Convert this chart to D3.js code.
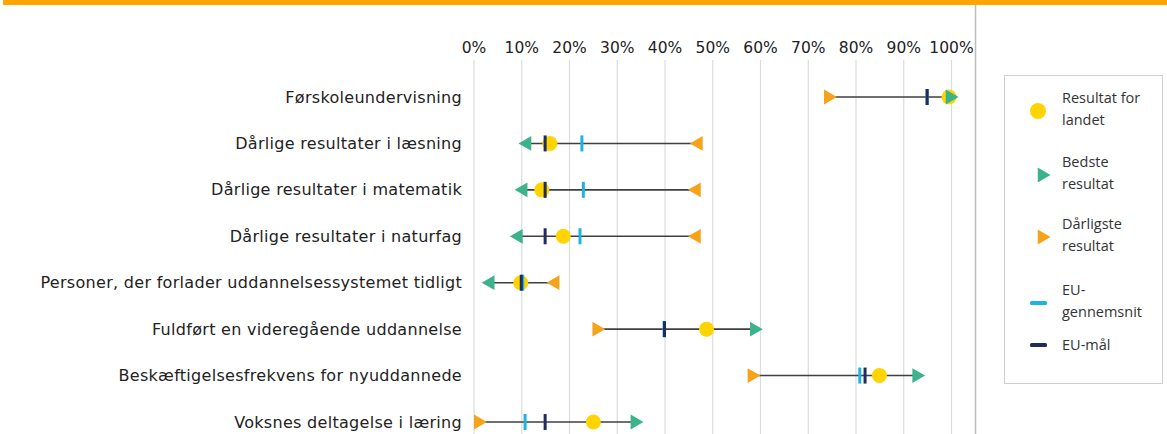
<!DOCTYPE html>
<html>
<head>
<meta charset="utf-8">
<script src="https://cdn.jsdelivr.net/npm/d3@7"></script>
<style>
  body { margin: 0; background: #fff; }
  svg { display: block; }
</style>
</head>
<body>
<div id="container"></div>
<script>
// Indikatorer (rækker)
const categories = [
  "Førskoleundervisning",
  "Dårlige resultater i læsning",
  "Dårlige resultater i matematik",
  "Dårlige resultater i naturfag",
  "Personer, der forlader uddannelsessystemet tidligt",
  "Fuldført en videregående uddannelse",
  "Beskæftigelsesfrekvens for nyuddannede",
  "Voksnes deltagelse i læring"
];

// Værdier i procent
const landet   = [99.6, 16.0, 14.3, 18.8, 9.9, 48.8, 85.0, 25.1];
const bedste   = [99.8, 11.2, 10.4, 9.4, 3.5, 58.8, 92.8, 33.8];
const darligste = [74.3, 47.1, 46.7, 46.7, 17.1, 25.8, 58.3, 1.0];
const euSnit   = [95.0, 22.7, 23.0, 22.3, 10.3, 39.9, 80.9, 10.8];
const euMaal   = [95, 15, 15, 15, 10, 40, 82, 15];

const tickValues = [0, 10, 20, 30, 40, 50, 60, 70, 80, 90, 100];

const legendItems = [
  { key: "landet", lines: ["Resultat for", "landet"] },
  { key: "bedste", lines: ["Bedste", "resultat"] },
  { key: "darligste", lines: ["Dårligste", "resultat"] },
  { key: "euSnit", lines: ["EU-", "gennemsnit"] },
  { key: "euMaal", lines: ["EU-mål"] }
];

const colors = {
  landet: "#ffd400",
  bedste: "#3db38c",
  darligste: "#f7a21b",
  euSnit: "#1fb3e3",
  euMaal: "#1e2d5c",
  line: "#3f3f3f"
};

const W = 1167, H = 434;

const svg = d3.select("#container").append("svg")
  .attr("width", W)
  .attr("height", H);

// Orange bånd øverst
svg.append("rect")
  .attr("x", 3).attr("y", 0)
  .attr("width", W - 3).attr("height", 5)
  .attr("fill", "#ffa500");

// Ramme til højre for plotområdet
svg.append("line")
  .attr("x1", 975.5).attr("x2", 975.5)
  .attr("y1", 5).attr("y2", H)
  .attr("stroke", "#bdbdbd").attr("stroke-width", 1.5);

// Skalaer
const x = d3.scaleLinear().domain([0, 100]).range([473.5, 951]);
const y = d3.scalePoint().domain(categories).range([97, 422]);

// Gitterlinjer
svg.append("g")
  .attr("transform", "translate(0,60)")
  .call(d3.axisBottom(x).tickValues(tickValues).tickSize(H - 60).tickFormat(""))
  .call(g => g.select(".domain").remove())
  .call(g => g.selectAll(".tick line").attr("stroke", "#dcdcdc").attr("stroke-width", 1.2));

// Akse øverst
svg.append("g")
  .attr("transform", "translate(0,53)")
  .call(d3.axisTop(x).tickValues(tickValues).tickSize(0).tickPadding(0).tickFormat(d => d + "%"))
  .call(g => g.select(".domain").remove())
  .call(g => g.selectAll("text")
    .attr("font-family", "DejaVu Sans, Verdana, sans-serif")
    .attr("font-size", 15.5)
    .attr("fill", "#222"));

// Kategorinavne
svg.append("g").selectAll("text")
  .data(categories)
  .join("text")
  .attr("x", 462)
  .attr("y", d => y(d))
  .attr("dy", "0.35em")
  .attr("text-anchor", "end")
  .attr("font-family", "DejaVu Sans, Verdana, sans-serif")
  .attr("font-size", 16)
  .attr("letter-spacing", 0.3)
  .attr("fill", "#222")
  .text(d => d);

const rows = categories.map((c, i) => ({
  cat: c, landet: landet[i], bedste: bedste[i], darligste: darligste[i],
  euSnit: euSnit[i], euMaal: euMaal[i]
}));

const tri = d3.symbol(d3.symbolTriangle, 95);

// Forbindelseslinjer
svg.append("g").selectAll("line")
  .data(rows)
  .join("line")
  .attr("x1", d => x(d.darligste))
  .attr("x2", d => x(d.bedste))
  .attr("y1", d => y(d.cat))
  .attr("y2", d => y(d.cat))
  .attr("stroke", colors.line)
  .attr("stroke-width", 1.6);

// Dårligste (trekant peger mod bedste)
svg.append("g").selectAll("path")
  .data(rows)
  .join("path")
  .attr("d", tri)
  .attr("transform", d => `translate(${x(d.darligste)},${y(d.cat)}) rotate(${d.bedste >= d.darligste ? 90 : -90})`)
  .attr("fill", colors.darligste);

// Landets resultat
svg.append("g").selectAll("circle")
  .data(rows)
  .join("circle")
  .attr("cx", d => x(d.landet))
  .attr("cy", d => y(d.cat))
  .attr("r", 7.5)
  .attr("fill", colors.landet);

// Bedste
svg.append("g").selectAll("path")
  .data(rows)
  .join("path")
  .attr("d", tri)
  .attr("transform", d => `translate(${x(d.bedste)},${y(d.cat)}) rotate(${d.bedste >= d.darligste ? 90 : -90})`)
  .attr("fill", colors.bedste);

// EU-gennemsnit og EU-mål
svg.append("g").selectAll("rect")
  .data(rows)
  .join("rect")
  .attr("x", d => x(d.euSnit) - 1.5)
  .attr("y", d => y(d.cat) - 8)
  .attr("width", 3)
  .attr("height", 16)
  .attr("fill", colors.euSnit);

svg.append("g").selectAll("rect")
  .data(rows)
  .join("rect")
  .attr("x", d => x(d.euMaal) - 1.5)
  .attr("y", d => y(d.cat) - 8)
  .attr("width", 3)
  .attr("height", 16)
  .attr("fill", colors.euMaal);

// Forklaring
const legend = svg.append("g");
legend.append("rect")
  .attr("x", 1004.5).attr("y", 75.5)
  .attr("width", 158).attr("height", 308)
  .attr("fill", "#fff")
  .attr("stroke", "#cfcfcf");

const legendY = [111, 175, 237, 303, 345];

const items = legend.selectAll("g.item")
  .data(legendItems)
  .join("g")
  .attr("class", "item")
  .attr("transform", (d, i) => `translate(1038,${legendY[i]})`);

items.each(function(d) {
  const g = d3.select(this);
  if (d.key === "landet") {
    g.append("circle").attr("r", 8).attr("fill", colors.landet);
  } else if (d.key === "bedste" || d.key === "darligste") {
    g.append("path").attr("d", tri).attr("transform", "translate(4,0) rotate(90)").attr("fill", colors[d.key]);
  } else {
    g.append("rect").attr("x", -8).attr("y", -2).attr("width", 17).attr("height", 4).attr("rx", 1.5).attr("fill", colors[d.key]);
  }
  const n = d.lines.length;
  g.append("text")
    .attr("font-family", "Open Sans, sans-serif")
    .attr("font-size", 14.5)
    .attr("fill", "#333")
    .selectAll("tspan")
    .data(d.lines)
    .join("tspan")
    .attr("x", 24)
    .attr("y", (l, j) => (j - (n - 1) / 2) * 22 - (n > 1 ? 2 : 0))
    .attr("dy", "0.35em")
    .text(l => l);
});
</script>
</body>
</html>
